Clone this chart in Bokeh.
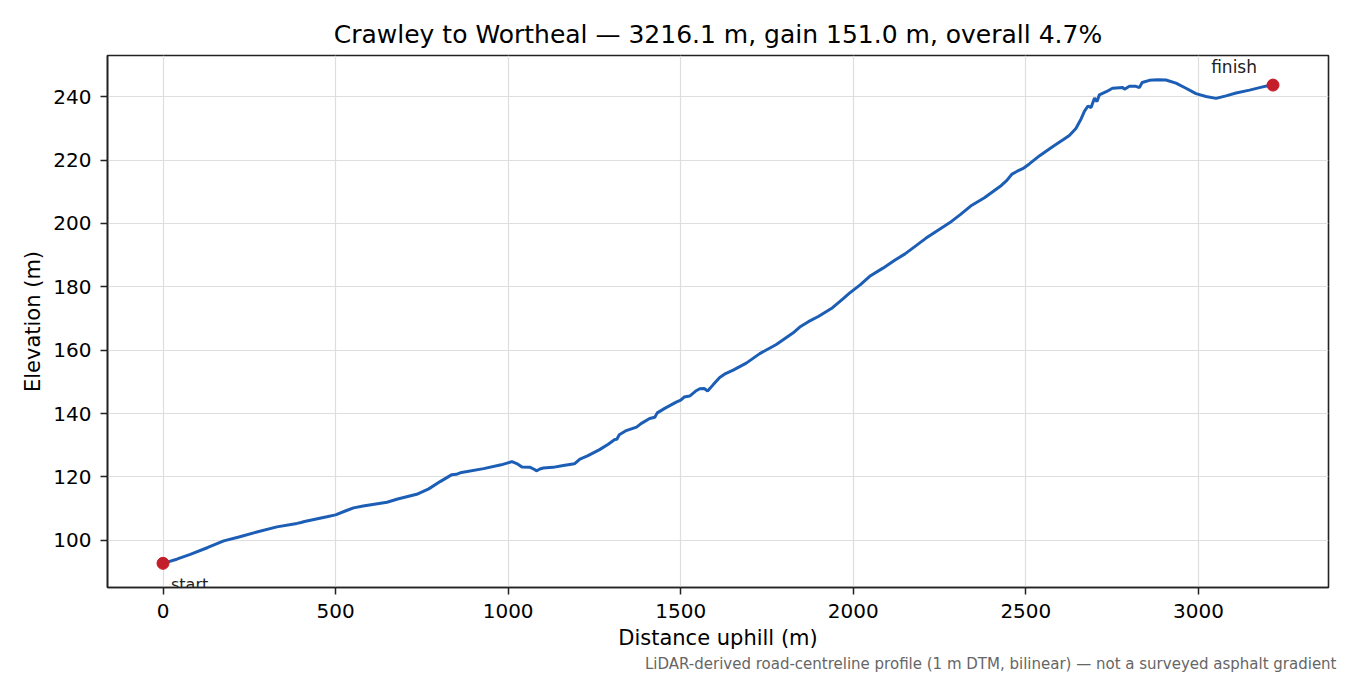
from bokeh.plotting import figure
from bokeh.models import Range1d, FixedTicker, Title, ColumnDataSource
from bokeh.core.properties import value
from bokeh.embed import file_html
from bokeh.resources import INLINE

# ---- data ----
distance_m = [0, 40, 79, 130, 176, 220, 272, 330, 388, 400, 410, 475, 500, 530, 552, 580,
              649, 680, 735, 770, 803, 837, 850, 865, 929, 980, 1011, 1025, 1040, 1064,
              1075, 1083, 1092, 1102, 1130, 1160, 1183, 1192, 1208, 1230, 1265, 1290,
              1309, 1315, 1322, 1340, 1372, 1385, 1410, 1425, 1432, 1455, 1487, 1500,
              1510, 1526, 1545, 1555, 1568, 1578, 1595, 1613, 1630, 1652, 1690, 1729,
              1777, 1825, 1845, 1870, 1900, 1940, 1970, 1989, 2020, 2050, 2086, 2120,
              2150, 2182, 2210, 2240, 2279, 2310, 2340, 2380, 2429, 2445, 2460, 2475,
              2491, 2510, 2540, 2570, 2588, 2610, 2626, 2645, 2660, 2670, 2680, 2689,
              2699, 2706, 2713, 2733, 2751, 2781, 2786, 2800, 2819, 2829, 2837, 2858,
              2882, 2906, 2935, 2964, 2993, 3022, 3051, 3080, 3109, 3148, 3177, 3210,
              3216.1]
elevation_m = [92.7, 94.0, 95.5, 97.7, 99.8, 101.0, 102.6, 104.2, 105.3, 105.6, 105.9,
               107.4, 108.0, 109.3, 110.2, 110.8, 112.0, 113.0, 114.5, 116.2, 118.5,
               120.7, 120.8, 121.4, 122.6, 123.8, 124.8, 124.2, 123.1, 123.0, 122.4,
               121.9, 122.5, 122.8, 123.0, 123.6, 124.0, 124.1, 125.6, 126.6, 128.6,
               130.3, 131.8, 131.9, 133.3, 134.5, 135.7, 136.8, 138.4, 138.8, 140.2,
               141.7, 143.6, 144.2, 145.2, 145.5, 147.2, 147.8, 147.9, 147.1, 149.2,
               151.4, 152.6, 153.7, 155.9, 158.9, 161.8, 165.4, 167.3, 169.0, 170.7,
               173.4, 176.2, 178.0, 180.6, 183.5, 185.9, 188.4, 190.4, 193.0, 195.3,
               197.5, 200.2, 202.8, 205.5, 208.1, 212.0, 213.6, 215.6, 216.5, 217.3,
               218.8, 221.4, 223.7, 225.0, 226.6, 227.8, 230.0, 233.0, 235.5, 237.1,
               236.6, 239.6, 238.5, 240.6, 241.6, 242.7, 242.9, 242.4, 243.3, 243.3,
               242.9, 244.5, 245.2, 245.4, 245.3, 244.3, 242.7, 241.0, 240.1, 239.5,
               240.3, 241.2, 242.1, 242.9, 243.7, 243.7]

end_labels = ["start", "finish"]
x_ticks = [0, 500, 1000, 1500, 2000, 2500, 3000]
y_ticks = [100, 120, 140, 160, 180, 200, 220, 240]

title_text = "Crawley to Wortheal \u2014 3216.1 m, gain 151.0 m, overall 4.7%"
note_text = "LiDAR-derived road-centreline profile (1 m DTM, bilinear) \u2014 not a surveyed asphalt gradient"

FONT = "DejaVu Sans"

# ranges with 5% margins like the reference
xmin, xmax = min(distance_m), max(distance_m)
ymin, ymax = min(elevation_m), max(elevation_m)
xpad = 0.05 * (xmax - xmin)
ypad = 0.05 * (ymax - ymin)

p = figure(width=1342, height=672, output_backend="svg", toolbar_location=None,
           x_range=Range1d(xmin - xpad, xmax + xpad),
           y_range=Range1d(ymin - ypad, ymax + ypad),
           min_border_left=107, min_border_right=14, min_border_top=55, min_border_bottom=85)

p.title.text = title_text
p.title.align = "center"
p.title.text_font = FONT
p.title.text_font_size = "25px"
p.title.text_font_style = "normal"
p.title.text_color = "black"
p.title.standoff = 13

note = Title(text=note_text, align="right", text_font=FONT, text_font_size="15px",
             text_font_style="normal", text_color="#666666", offset=-8, standoff=0)
p.add_layout(note, "below")

p.background_fill_color = "white"
p.border_fill_color = "white"
p.outline_line_color = "#222222"
p.outline_line_width = 1.6
p.outline_line_alpha = 1

for ax in (p.xaxis, p.yaxis):
    ax.axis_line_color = "#222222"
    ax.axis_line_width = 1.6
    ax.major_tick_line_color = "#222222"
    ax.major_tick_line_width = 1.5
    ax.major_tick_out = 7
    ax.major_tick_in = 0
    ax.minor_tick_line_color = None
    ax.major_label_text_font = FONT
    ax.major_label_text_font_size = "20px"
    ax.major_label_text_color = "black"
    ax.axis_label_text_font = FONT
    ax.axis_label_text_font_size = "21px"
    ax.axis_label_text_font_style = "normal"
    ax.axis_label_text_color = "black"

p.xaxis.axis_label = "Distance uphill (m)"
p.yaxis.axis_label = "Elevation (m)"
p.xaxis.ticker = FixedTicker(ticks=x_ticks)
p.yaxis.ticker = FixedTicker(ticks=y_ticks)
p.xaxis.major_label_standoff = 9
p.yaxis.major_label_standoff = 9
p.xaxis.axis_label_standoff = 5
p.yaxis.axis_label_standoff = 5

p.grid.grid_line_color = "#dedede"
p.grid.grid_line_alpha = 1.0
p.grid.grid_line_width = 1.2
p.xgrid.ticker = FixedTicker(ticks=x_ticks)
p.ygrid.ticker = FixedTicker(ticks=y_ticks)

src = ColumnDataSource(dict(x=distance_m, y=elevation_m))
p.line("x", "y", source=src, line_color="#1c5eb5", line_width=3.0)

ends = ColumnDataSource(dict(x=[distance_m[0], distance_m[-1]],
                             y=[elevation_m[0], elevation_m[-1]]))
p.scatter("x", "y", source=ends, size=12, fill_color="#c41e2a", line_color="#c41e2a")

p.text(x=[distance_m[0]], y=[elevation_m[0]], text=[end_labels[0]],
       text_font=value(FONT), text_font_size="16px", text_color="#222222",
       text_align="left", text_baseline="top", x_offset=8, y_offset=12)
p.text(x=[distance_m[-1]], y=[elevation_m[-1]], text=[end_labels[1]],
       text_font=value(FONT), text_font_size="17px", text_color="#222222",
       text_align="right", text_baseline="alphabetic", x_offset=-16, y_offset=-18)

open("out.html", "w").write(file_html(p, INLINE))
